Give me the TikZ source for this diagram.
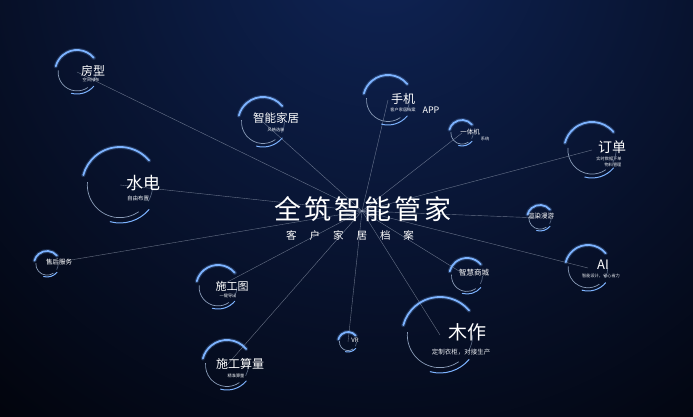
\documentclass[tikz,border=0pt]{standalone}
\usepackage{fontspec}
\setmainfont{Noto Sans CJK SC}
\usetikzlibrary{calc}
\definecolor{bgdark}{HTML}{010208}
\definecolor{bgmid}{HTML}{040B1E}
\definecolor{bgglow}{HTML}{0F2456}
\definecolor{arcblue}{HTML}{7DB3FF}
\definecolor{arcgray}{HTML}{8A9CB8}
\definecolor{linkc}{HTML}{C8D2E2}
\tikzset{
  link/.style={draw=linkc, line width=0.4pt, opacity=0.5},
  brightarc/.style={draw=arcblue, line width=#1, line cap=round},
  glowarc/.style={draw=arcblue, line width=#1, opacity=0.22, line cap=round},
  thinarc/.style={draw=arcgray, line width=0.7pt},
  lbl/.style={text=white, inner sep=0pt, align=center},
  sublbl/.style={text=white!85!arcgray, inner sep=0pt, align=center, font=\fontsize{4.2}{5}\selectfont}
}
\newcommand\ringdeco[2]{%
  \draw[glowarc=4pt] (#1) ++(40:#2) arc[start angle=40,end angle=165,radius=#2];
  \draw[brightarc=1.8pt] (#1) ++(40:#2) arc[start angle=40,end angle=165,radius=#2];
  \draw[thinarc] (#1) ++(175:0.86*#2) arc[start angle=175,end angle=305,radius=0.86*#2];
  \draw[brightarc=1pt] (#1) ++(255:#2) arc[start angle=255,end angle=320,radius=#2];
  \draw[thinarc, opacity=0.6] (#1) ++(330:0.86*#2) arc[start angle=330,end angle=360,radius=0.86*#2];
}
\begin{document}
\begin{tikzpicture}[x=1pt,y=1pt]
\useasboundingbox (0,0) rectangle (693,417);
\begin{scope}
  \clip (0,0) rectangle (693,417);
  \fill[bgdark] (0,0) rectangle (693,417);
  \shade[inner color=bgglow, outer color=bgdark] (380,470) circle[radius=640];
\end{scope}

% ring centres
\coordinate (fang) at (77,345);
\coordinate (zhineng) at (263,295);
\coordinate (shouji) at (388,317);
\coordinate (yiti) at (462,284);
\coordinate (dingdan) at (592,267);
\coordinate (shuidian) at (120,232);
\coordinate (xuanran) at (540,199);
\coordinate (ai) at (588,149);
\coordinate (shouhou) at (47,153);
\coordinate (shigongtu) at (218,130);
\coordinate (shangcheng) at (467,141);
\coordinate (muzuo) at (440,82);
\coordinate (suanliang) at (227,52);
\coordinate (vr) at (348,75);
\coordinate (hub) at (362,206);

% connectors
\foreach \n in {fang,zhineng,shouji,yiti,dingdan,shuidian,xuanran,ai,shouhou,shigongtu,shangcheng,muzuo,suanliang,vr}
  \draw[link] (hub) -- (\n);

% rings
\ringdeco{fang}{22}
\ringdeco{zhineng}{25}
\ringdeco{shouji}{25}
\ringdeco{yiti}{13}
\ringdeco{dingdan}{28}
\ringdeco{shuidian}{38}
\ringdeco{xuanran}{13}
\ringdeco{ai}{23}
\ringdeco{shouhou}{13}
\ringdeco{shigongtu}{22}
\ringdeco{shangcheng}{18}
\ringdeco{muzuo}{38}
\ringdeco{suanliang}{25}
\ringdeco{vr}{10}

% labels
\node[lbl, font=\fontsize{12}{12}\selectfont] (fangT) at (93,346) {房型};
\node[sublbl] (fangS) at (91,337) {空间排布};

\node[lbl, font=\fontsize{11.5}{12}\selectfont] (zhinengT) at (276,299) {智能家居};
\node[sublbl] (zhinengS) at (276,287) {风格选装};

\node[lbl, font=\fontsize{12}{12}\selectfont] (shoujiT) at (403,318) {手机};
\node[sublbl] (shoujiS) at (403,307) {客户家居档案};
\node[lbl, font=\fontsize{9}{9}\selectfont] (appT) at (431,307) {APP};

\node[lbl, font=\fontsize{6.5}{7}\selectfont] (yitiT) at (470,285) {一体机};
\node[sublbl] (yitiS) at (485,278) {系统};

\node[lbl, font=\fontsize{14}{14}\selectfont] (dingdanT) at (612,270) {订单};
\node[sublbl] (dingdanS) at (609,258) {实时数据下单};
\node[sublbl] (dingdanS2) at (613,252) {物料管理};

\node[lbl, font=\fontsize{17}{17}\selectfont] (shuidianT) at (143,234) {水电};
\node[sublbl, font=\fontsize{5.5}{6}\selectfont] (shuidianS) at (138,219) {自由布置};

\node[lbl, font=\fontsize{6.5}{7}\selectfont] (xuanranT) at (541,201) {渲染漫游};

\node[lbl, font=\fontsize{13}{13}\selectfont] (aiT) at (603,152) {AI};
\node[sublbl] (aiS) at (601,141) {智能设计，省心省力};

\node[lbl, font=\fontsize{6.5}{7}\selectfont] (shouhouT) at (59,155) {售后服务};

\node[lbl, font=\fontsize{11}{11}\selectfont] (shigongtuT) at (232,131) {施工图};
\node[sublbl] (shigongtuS) at (228,121) {一键导出};

\node[lbl, font=\fontsize{7.5}{8}\selectfont] (shangchengT) at (474,144) {智慧商城};

\node[lbl, font=\fontsize{19}{19}\selectfont] (muzuoT) at (467,85) {木作};
\node[sublbl, font=\fontsize{6.5}{7}\selectfont] (muzuoS) at (461,65) {定制衣柜，对接生产};

\node[lbl, font=\fontsize{12}{12}\selectfont] (suanliangT) at (240,53) {施工算量};
\node[sublbl] (suanliangS) at (236,41) {精准算量};

\node[lbl, font=\fontsize{6}{6}\selectfont] (vrT) at (355,77) {VR};

% centre title
\node[lbl, font=\fontsize{27}{27}\selectfont] (title) at (363,208)
  {全\hspace{3pt}筑\hspace{3pt}智\hspace{3pt}能\hspace{3pt}管\hspace{3pt}家};
\node[lbl, font=\fontsize{10.5}{11}\selectfont] (subtitle) at (350,182)
  {客\hspace{13pt}户\hspace{13pt}家\hspace{13pt}居\hspace{13pt}档\hspace{13pt}案};
\end{tikzpicture}
\end{document}
